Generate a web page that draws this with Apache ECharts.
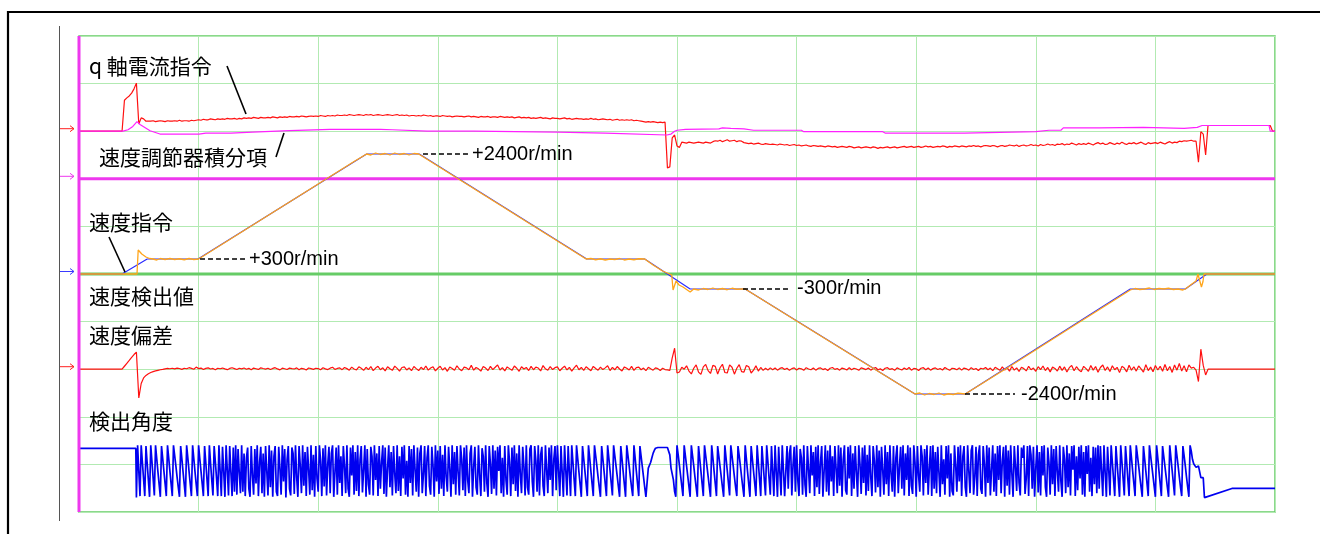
<!DOCTYPE html>
<html><head><meta charset="utf-8">
<script src="https://cdn.jsdelivr.net/npm/echarts@6/dist/echarts.min.js"></script>
<style>html,body{margin:0;padding:0;background:#fff;}#c{width:1320px;height:534px;}</style>
</head><body><div id="c"></div>
<script>
// ---------- time axis (10 divisions) ----------
const X_MIN = 0, X_MAX = 1000, X_DIV = 100;
const GRID_DIVS = 10;

// ---------- speed command [t, r/min] ----------
const speedCmd = [[0,0],[36,0],[57,300],[99.5,300],[240.5,2400],[284.5,2400],[424.5,300],[473,300],[511,-300],[557,-300],[699,-2400],[741,-2400],[879,-300],[925,-300],[943,0],[1000,0]];

// ---------- detected speed [t, r/min] ----------
const speedDet = [[0,0],[48.5,0],[49.5,480],[51,440],[52.5,400],[54,440],[56,340],[59,310],[62,300],[65,280],[68,310],[72,290],[76,310],[80,290],[84,305],[88,285],[92,310],[96,290],[100,300],
[110,450],[140,900],[170,1350],[200,1800],[230,2250],[240.5,2400],[244,2380],[248,2420],[252,2390],[256,2410],[260,2380],[264,2420],[268,2390],[272,2410],[276,2380],[280,2410],[284,2400],
[300,2160],[340,1560],[380,960],[410,510],[424,300],[428,310],[432,285],[436,305],[440,280],[444,300],[448,290],[452,310],[456,280],[460,300],[464,285],[468,305],[473,300],
[480,180],[488,60],[495.6,-20],[496.7,-320],[499.2,-140],[501.7,-220],[505,-260],[511,-360],[514,-300],[518,-320],[522,-290],[526,-310],[530,-280],[534,-310],[538,-290],[542,-315],[546,-285],[550,-305],[554,-300],[557,-300],
[600,-940],[650,-1680],[699,-2400],[703,-2380],[707,-2420],[711,-2390],[715,-2410],[719,-2380],[723,-2420],[727,-2395],[731,-2410],[735,-2385],[741,-2400],
[780,-1820],[830,-1060],[879,-320],[883,-290],[887,-310],[891,-300],[895,-280],[899,-310],[903,-290],[907,-300],[911,-285],[915,-310],[919,-300],[923,-320],[925,-300],
[930,-210],[934,-140],[935.6,0],[936.9,-120],[938.5,-260],[939.8,-150],[940.6,0],[1000,0]];

// ---------- speed controller integral term [t, %] ----------
const integralTerm = [[0,0],[36.8,0],[41,3],[45,10],[48.5,20],[51,14],[59.4,1],[67.7,-6],[100.3,-6],[106,-4],[127,-4],[145,-2],[176,1],[210,4],[252,4],[262,3],[291,0],[330,0],[400,-2],[440,-4],[491.5,-8],[495,-6],[498,0],[500,2],[507,4],[535,5],[538,7],[545,6],[556,5],[564,2],[604,2],[606,-1],[672,-1],[674,-4],[740,-4],[760,-3],[800,-1],[811,2],[821,2],[823,7],[850,7],[851,8],[853,7],[890,8],[891,6],[924,6],[935,8],[939,12],[995,12],[996,0],[1000,0]];

// ---------- q-axis current command, sampled every 2 time units [%] ----------
const Q_STEP = 2;
const qCurrent = [
0,0,0,0,0,0,0,0,0,0, 0,0,0,0,0,0,0,0,0,65,
70,74,80,89,101,15,28,26,21,21, 21,22,20,21,22,21,20,22,21,21,
22,21,23,21,22,22,21,23,22,23, 24,23,25,24,24,26,25,24,26,25,
26,25,27,26,26,27,25,27,26,28, 27,28,27,29,28,27,29,28,28,29,
28,30,29,28,30,29,30,29,31,30, 30,31,30,32,31,30,31,32,31,32,
31,33,32,31,33,32,33,32,34,33, 33,34,33,35,34,33,34,35,34,33,
35,34,35,33,34,35,34,33,34,35, 34,33,34,35,33,34,33,34,32,33,
33,32,33,32,34,33,32,33,31,32, 32,31,33,32,31,32,30,31,32,31,
31,30,31,32,30,31,30,29,31,30, 30,31,29,30,30,29,31,30,29,30,
29,30,28,29,30,28,29,28,29,27, 28,27,28,29,27,28,27,26,28,27,
27,26,27,28,26,27,25,26,27,26, 26,25,26,25,27,25,26,24,25,26,
25,24,25,23,24,25,23,24,23,24, 23,24,22,23,22,21,20,19,20,19,
20,19,18,19,18,19,-77,-75,-14,-8, -31,-34,-23,-24,-25,-23,-24,-25,-24,-23,
-24,-25,-23,-24,-25,-22,-20,-21,-19,-22, -20,-18,-21,-20,-19,-22,-20,-21,-24,-25,
-26,-25,-27,-26,-25,-27,-28,-26,-27,-28, -27,-28,-29,-27,-28,-29,-28,-30,-29,-28,
-30,-29,-31,-30,-29,-31,-32,-30,-31,-32, -31,-32,-33,-31,-32,-33,-32,-34,-33,-32,
-33,-34,-32,-33,-35,-34,-33,-35,-34,-33, -34,-35,-33,-34,-36,-34,-35,-34,-33,-35,
-34,-33,-35,-34,-33,-32,-34,-33,-32,-34, -33,-32,-34,-33,-31,-33,-32,-34,-33,-32,
-33,-31,-32,-34,-32,-33,-31,-32,-33,-31, -32,-33,-31,-32,-30,-32,-31,-33,-31,-30,
-31,-32,-30,-31,-33,-31,-30,-32,-31,-29, -30,-31,-29,-32,-30,-29,-31,-30,-28,-30,
-29,-31,-28,-30,-29,-27,-29,-28,-30,-27, -28,-26,-29,-27,-28,-25,-27,-29,-26,-28,
-26,-28,-25,-27,-29,-26,-24,-27,-25,-28, -27,-24,-26,-28,-25,-27,-23,-26,-28,-25,
-26,-24,-27,-25,-23,-26,-28,-24,-26,-25, -24,-26,-23,-25,-27,-24,-22,-25,-23,-24,
-21,-22,-20,-21,-20,-19,-21,-21,-65,-1, -6,-50,12,12,12,12,12,12,12,12,
12,12,12,12,12,12,12,12,12,12, 12,12,12,12,12,12,12,12,12,0,
0];

// ---------- speed deviation, sampled every 2 time units [r/min] ----------
const DEV_STEP = 2;
const speedDev = [
0,0,0,0,0,0,0,0,0,0, 0,0,0,0,0,0,0,0,0,31,
62,92,123,154,180,-302,-150,-92,-65,-48, -35,-25,-18,-12,-6,-2,3,8,5,10,
4,12,7,-2,10,5,16,8,0,22, 6,12,-4,9,14,2,8,-6,10,5,
12,3,-5,8,15,6,-3,10,4,13, 0,9,-6,12,5,-2,14,7,1,10,
-4,8,16,3,-7,11,5,-3,12,6, 2,14,-5,9,4,-8,13,6,-2,10,
7,-6,15,3,-4,11,20,-2,8,14, -5,18,6,-10,22,2,-8,25,10,-12,
20,-4,28,-15,12,30,-6,15,-18,26, 4,-12,32,8,-20,18,24,-8,14,-16,
28,6,-14,20,-5,34,-10,12,26,-18, 10,30,-8,16,-22,24,8,-12,36,2,
-16,22,14,-6,40,-10,18,4,-20,28, 12,-14,30,-4,20,45,-8,16,-18,24,
6,-12,34,10,-22,26,2,18,-14,30, -6,22,12,-18,38,4,-10,28,-4,16,
24,-16,10,32,-8,20,-20,14,42,-6, 18,-12,26,4,-16,30,8,-10,22,-4,
14,36,-14,20,-6,28,2,-18,24,10, -8,30,-12,16,22,-6,12,-16,20,4,
-10,14,6,-14,10,-4,-8,-12,120,220, -40,-30,20,0,35,-20,-50,10,45,-30,
-55,25,50,-15,-45,40,30,-50,15,52, -35,-40,45,20,-52,10,48,-25,-30,40,
25,-40,-10,35,-20,18,-12,10,-8,14, -6,12,-10,8,16,-4,10,-12,6,14,
-8,10,4,-12,16,2,-6,12,-10,8, 14,-4,6,-14,10,18,-2,8,-10,12,
4,-8,16,-6,10,2,-12,14,6,-4, 12,-10,8,18,-6,4,-14,10,16,-2,
6,-12,14,2,-8,12,-4,18,-10,8, 4,-14,10,16,-6,12,-10,6,14,-4,
8,-8,18,2,-12,10,6,-6,14,-10, 12,4,-10,16,-4,8,-14,10,2,18,
-6,12,-16,20,4,-12,24,-8,16,-20, 28,-10,14,-24,20,6,-18,30,-6,12,
-22,26,-4,34,-14,18,-28,22,8,-20, 32,-12,24,-30,16,40,-16,26,-8,-26,
30,6,-22,38,-10,28,-32,18,44,-14, 24,-24,36,-6,20,-36,30,12,-28,42,
-10,26,-20,34,4,-30,48,-14,22,-26, 38,-8,30,-22,50,-16,28,-34,44,-10,
60,-20,36,-28,46,12,20,-10,-130,210, 40,-60,0,0,0,0,0,0,0,0,
0,0,0,0,0,0,0,0,0,0, 0,0,0,0,0,0,0,0,0,0,
0];

// ---------- detected angle [deg] ----------
const angleLead = [[0,334],[47.5,334]];
const ANGLE_T0 = 48, ANGLE_STEP = 1;
const angleVals = [
0, 355,180,10, 355,240,125,10, 350,235,120,5, 355,245,130,15, 355,265,175,90,5, 350,265,180,95,10, 355,270,180,95,10, 355,285,215,140,70,5, 350,265,175,90,5, 355,270,180,95,10, 355,265,175,90,10,
355,265,180,95,10, 350,240,125,10, 355,235,120,15, 350,245,130,10, 355,180,10, 345,175,5, 355,185,15, 350,170,10, 340,40, 355,20, 330,170,30,
355,40,300,10,270,340,60,5,350,150, 20,330,95,355,10,240,345,30,300,5, 350,180,15,355,70,320,5,280,350,40, 10,345,200,20,355,110,330,0,260,350,
60,15,340,300,25,355,140,5,350,220, 30,355,80,310,10,345,190,20,355,50, 290,5,350,130,40,355,250,10,335,75, 355,15,230,345,30,300,355,5,170,340,
20,355,100,280,10,350,210,30,355,60, 5,340,150,355,20,310,45,355,10,260, 350,35,190,355,5,330,90,20,345,280, 15,355,120,300,10,350,60,240,355,25,
340,5,200,355,70,310,15,350,160,30, 355,45,280,10,345,130,355,20,250,5, 350,100,330,15,355,190,40,340,5,300, 355,30,160,350,10,270,355,80,20,345,
220,5,355,110,320,25,350,60,290,10, 355,140,40,345,200,5,355,90,310,20, 350,170,15,355,260,50,340,10,355,120, 30,300,355,5,210,345,70,20,355,150,
10,335,280,40,355,100,5,350,230,25, 355,60,320,15,345,180,355,30,270,5, 350,120,20,355,240,10,340,90,355,45, 300,5,355,160,30,345,210,15,355,70,
20,330,355,110,5,350,250,40,355,15, 290,345,80,10,355,190,30,340,120,355, 10,260,350,50,
355,180,10, 350,170,5, 355,185,15, 350,175,10, 355,240,120,10, 355,265,175,90,5, 350,265,180,95,10,
355,270,180,95,10, 355,285,215,140,70,5, 350,265,180,95,10, 355,270,185,100,15, 355,285,215,145,75,5, 350,265,175,90,5, 355,285,215,140,70,10, 355,270,180,95,10, 350,280,210,140,70,5,
5,200,210,240,270,300,320,335,340,340,340,340,340,340,340,340,340,340,330,290,200,190,120,40,5,
355,290,220,150,80,10, 355,285,215,145,75,5,
355,285,215,140,70,5, 350,265,180,95,10, 355,285,215,145,75,5, 355,270,180,95,10, 350,280,210,140,70,5, 355,270,185,100,15, 355,285,215,140,70,10, 350,285,215,140,70,5,
355,265,175,90,5, 350,265,180,95,10, 355,240,125,10, 350,235,120,15, 355,245,130,20, 350,180,10, 355,175,5, 345,170,15, 355,185,10,
5,350,60,300,355,15,220,345,40,355, 120,10,330,270,20,355,90,5,350,190, 30,355,150,310,10,345,70,355,25,240, 350,5,180,355,40,320,15,355,110,280,
10,350,200,30,355,80,340,5,260,355, 50,20,345,130,355,10,300,60,350,170, 5,355,230,25,340,100,355,15,290,45, 355,140,10,350,250,35,355,70,320,5,
345,190,20,355,90,310,10,355,160,40, 350,5,270,355,30,210,345,60,355,15, 300,120,355,10,340,80,25,355,240,5, 350,150,40,355,280,15,330,100,355,20,
200,350,10,355,60,310,30,345,170,5, 355,90,260,20,350,130,355,5,300,45, 15,355,220,40,345,110,355,10,280,350, 70,5,355,180,30,320,355,20,140,345,
10,290,355,60,25,350,230,5,355,100, 340,15,190,355,40,300,10,350,120,355, 30,250,345,5,355,80,320,20,355,160, 5,350,210,45,355,100,15,340,270,355,
25,130,350,10,355,290,60,345,5,200, 355,35,310,15,350,150,355,70,5,340, 240,20,355,90,330,10,350,180,40,355, 110,5,345,260,30,355,70,300,15,350,
190,355,10,280,50,345,130,355,20,310, 5,350,160,355,40,270,10,345,90,
340,30, 355,60, 350,180,10, 355,170,5, 345,185,15, 355,240,125,10, 350,235,120,5, 355,245,130,15, 350,240,120,10,
355,270,180,95,10, 355,285,215,140,70,5, 350,265,180,95,10, 355,285,215,145,75,5, 355,270,180,95,10, 350,280,210,140,70,5, 355,270,185,100,15, 355,285,215,140,70,10, 350,285,215,140,70,5,
355,315,260,230,220,205,205,215,215,135,135,135
];
const angleTail = [[941,0],[964,62],[1000,62]];

// ---------- annotation texts ----------
const labelQ = 'q 軸電流指令';
const labelInt = '速度調節器積分項';
const labelCmd = '速度指令';
const labelDet = '速度検出値';
const labelDev = '速度偏差';
const labelAng = '検出角度';
const speedMarks = [
  {from: 287.6, to: 326.9, v: 2400, text: '+2400r/min', gap: 2},
  {from: 101.2, to: 140.5, v: 300, text: '+300r/min', gap: 2},
  {from: 555.2, to: 592.8, v: -290, text: '-300r/min', gap: 9},
  {from: 740.8, to: 782.6, v: -2400, text: '-2400r/min', gap: 6}
];

// ---------- build ----------
const sampled = (vals, t0, dt) => vals.map((v, i) => [t0 + i * dt, v]);
const anglePairs = angleLead.concat(sampled(angleVals, ANGLE_T0, ANGLE_STEP), angleTail);

const CJK = '"Noto Sans CJK JP", "Noto Sans CJK SC", sans-serif';
const LAT = '"Liberation Sans", Arial, sans-serif';
const GRID_C = '#b2eab2';

const line = (name, data, yAxisIndex, color, width, extra) => Object.assign({
  type: 'line', name, data, yAxisIndex, xAxisIndex: 0, showSymbol: false, symbol: 'none',
  lineStyle: { color, width }, itemStyle: { color }, silent: true, animation: false,
  emphasis: { disabled: true }
}, extra || {});

const chart = echarts.init(document.getElementById('c'), null, { renderer: 'canvas' });
const hiddenY = (min, max) => ({ type: 'value', min, max, show: false, splitLine: { show: false } });

chart.setOption({
  animation: false,
  backgroundColor: '#ffffff',
  grid: { left: 79, top: 36, width: 1196, height: 476, show: true, borderColor: '#66cc66', borderWidth: 1.5 },
  xAxis: { type: 'value', min: X_MIN, max: X_MAX, interval: X_DIV,
    axisLine: { show: false }, axisTick: { show: false }, axisLabel: { show: false },
    splitLine: { show: true, lineStyle: { color: GRID_C, width: 1 } } },
  yAxis: [
    { type: 'value', min: 0, max: GRID_DIVS, interval: 1, axisLine: { show: false }, axisTick: { show: false }, axisLabel: { show: false },
      splitLine: { show: true, lineStyle: { color: GRID_C, width: 1 } } },
    hiddenY(-800, 200),      // q current / integral (% , 100/div)
    hiddenY(-4760, 4760),    // speed (r/min)
    hiddenY(-1500, 3500),    // deviation (r/min, 500/div)
    hiddenY(-98, 3135)       // angle (deg)
  ],
  series: [
    line('center', [[X_MIN, 5], [X_MAX, 5]], 0, '#66cc66', 3),
    line('cursorH', [[X_MIN, 7], [X_MAX, 7]], 0, '#ee38ee', 3),
    line(labelAng, anglePairs, 4, '#0000f0', 1.7),
    line(labelDev, sampled(speedDev, 0, DEV_STEP), 3, '#ff1010', 1.2),
    line(labelQ, sampled(qCurrent, 0, Q_STEP), 1, '#ff1010', 1.2),
    line(labelInt, integralTerm, 1, '#ff20ff', 1.2),
    line(labelCmd, speedCmd, 2, '#2a2aff', 1.2, {
      markLine: {
        silent: true, symbol: ['none', 'none'], animation: false,
        lineStyle: { color: '#000', width: 1.5, type: [5, 3] },
        data: speedMarks.map(m => [
          { coord: [m.from, m.v], label: { show: true, position: 'end', formatter: m.text, color: '#000', fontSize: 20, fontFamily: LAT, distance: m.gap } },
          { coord: [m.to, m.v] }
        ])
      }
    }),
    line(labelDet, speedDet, 2, '#ffa51a', 1.3),
    line('cursorV', [[X_MIN, 0], [X_MIN, GRID_DIVS]], 0, '#ee38ee', 3)
  ]
});

// arrows at channel reference levels, placed through the axes' scales
const arrowDefs = [
  { yAxisIndex: 1, v: 0, color: '#ff2020' },
  { yAxisIndex: 0, v: 7, color: '#ee38ee' },
  { yAxisIndex: 2, v: 0, color: '#3a3aff' },
  { yAxisIndex: 3, v: 0, color: '#ff2020' }
];
const g = [];
arrowDefs.forEach(a => {
  const p = chart.convertToPixel({ xAxisIndex: 0, yAxisIndex: a.yAxisIndex }, [X_MIN, a.v]);
  const y = p[1] - 2.5, x0 = p[0] - 19, x1 = p[0] - 5;
  g.push({ type: 'polyline', z: 100, shape: { points: [[x0, y], [x1, y]] }, style: { stroke: a.color, lineWidth: 1, fill: null } });
  g.push({ type: 'polyline', z: 100, shape: { points: [[x1 - 4, y - 3], [x1, y], [x1 - 4, y + 3]] }, style: { stroke: a.color, lineWidth: 1, fill: null } });
});
const txt = (text, x, y) => ({ type: 'text', z: 100, x, y, style: { text, font: '21px ' + CJK, fill: '#000', verticalAlign: 'middle', align: 'left' } });
const seg = (x1, y1, x2, y2, w, c) => ({ type: 'line', z: 100, shape: { x1, y1, x2, y2 }, style: { stroke: c || '#000', lineWidth: w || 1.5 } });
g.push(
  seg(8, 12, 1320, 12, 2.2), seg(8, 11, 8, 534, 2.2), seg(59.5, 26, 59.5, 521, 1, '#555'),
  txt(labelQ, 89, 66), seg(227, 66, 246, 114, 1.6),
  txt(labelInt, 99, 157), seg(276, 157, 284, 133, 1.6),
  txt(labelCmd, 89, 222), seg(109, 237, 125, 272, 1.6),
  txt(labelDet, 89, 296),
  txt(labelDev, 89, 335),
  txt(labelAng, 89, 421)
);
chart.setOption({ graphic: g });
</script></body></html>
